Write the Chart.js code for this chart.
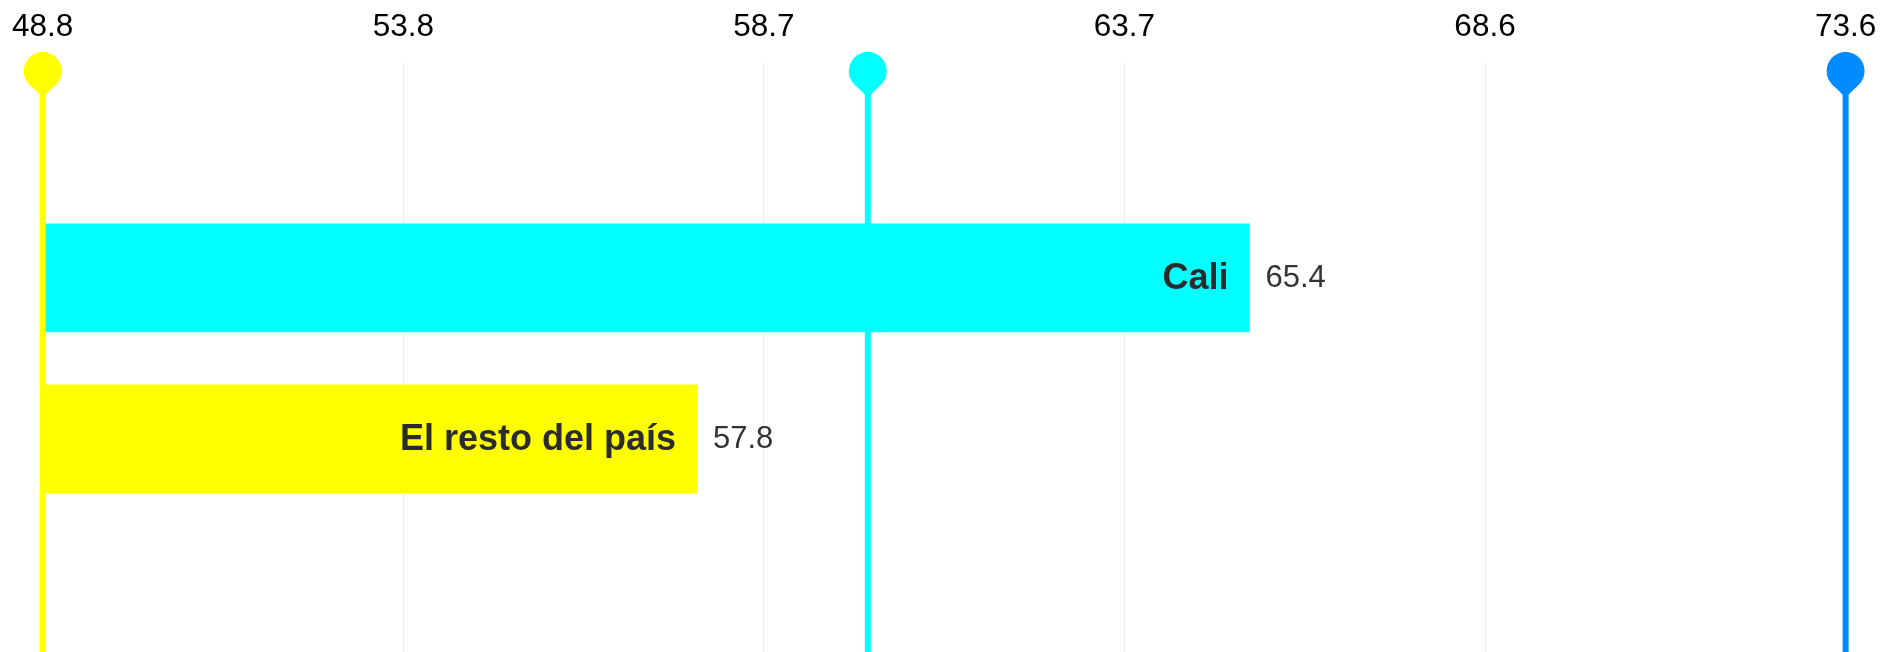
<!DOCTYPE html>
<html>
<head>
<meta charset="utf-8">
<script src="https://cdn.jsdelivr.net/npm/chart.js@4.4.1/dist/chart.umd.min.js"></script>
<style>
  html, body { margin: 0; padding: 0; background: #ffffff; }
  #wrap { width: 1883px; height: 652px; position: relative; }
</style>
</head>
<body>
<div id="wrap"><canvas id="c" width="1883" height="652"></canvas></div>
<script>
// ---- data ----
const categories = ['Cali', 'El resto del país'];
const values = [65.4, 57.8];
const barColors = ['#00FFFF', '#FFFF00'];
const markerValues = [48.8, 60.15, 73.6];
const markerColors = ['#FFFF00', '#00FFFF', '#008CFF'];
const tickValues = [48.8, 53.76, 58.72, 63.68, 68.64, 73.6];
const tickLabels = ['48.8', '53.8', '58.7', '63.7', '68.6', '73.6'];

const FONT = '"Liberation Sans", Arial, Helvetica, sans-serif';
const xMin = tickValues[0];
const xMax = tickValues[tickValues.length - 1];

const pinPlugin = {
  id: 'pins',
  afterDatasetsDraw(chart) {
    const ctx = chart.ctx;
    const xs = chart.scales.x;
    const area = chart.chartArea;
    const r = 19;
    const cy = area.top + 8;
    const d = 26.5;
    const phi = Math.acos(r / d);
    ctx.save();
    markerValues.forEach((v, i) => {
      const x = xs.getPixelForValue(v);
      ctx.fillStyle = markerColors[i];
      // stem
      ctx.fillRect(x - 3, cy + d - 4, 6, chart.height - (cy + d - 4));
      // pin head
      ctx.beginPath();
      ctx.arc(x, cy, r, 0, Math.PI * 2);
      ctx.fill();
      ctx.beginPath();
      ctx.moveTo(x - r * Math.sin(phi), cy + r * Math.cos(phi));
      ctx.lineTo(x, cy + d);
      ctx.lineTo(x + r * Math.sin(phi), cy + r * Math.cos(phi));
      ctx.closePath();
      ctx.fill();
    });
    ctx.restore();
  }
};

const labelPlugin = {
  id: 'barLabels',
  afterDraw(chart) {
    const ctx = chart.ctx;
    const meta = chart.getDatasetMeta(0);
    ctx.save();
    ctx.textBaseline = 'middle';
    meta.data.forEach((bar, i) => {
      const x = bar.x;
      const y = bar.y;
      ctx.fillStyle = '#2b2b2b';
      ctx.font = 'bold 36px ' + FONT;
      ctx.textAlign = 'right';
      ctx.fillText(categories[i], x - 21, y + 1);
      ctx.font = '31px ' + FONT;
      ctx.fillStyle = '#333333';
      ctx.textAlign = 'left';
      ctx.fillText(values[i].toFixed(1), x + 16, y + 1);
    });
    ctx.restore();
  }
};

new Chart(document.getElementById('c'), {
  type: 'bar',
  data: {
    datasets: [{
      data: values.map((v, i) => ({ x: v, y: i })),
      backgroundColor: barColors,
      borderWidth: 0,
      base: xMin,
      barThickness: 108
    }]
  },
  options: {
    indexAxis: 'y',
    responsive: false,
    animation: false,
    events: [],
    layout: { padding: { left: 42.7, right: 37.4, top: 0, bottom: 0 } },
    plugins: { legend: { display: false }, tooltip: { enabled: false } },
    scales: {
      x: {
        type: 'linear',
        position: 'top',
        min: xMin,
        max: xMax,
        afterBuildTicks(scale) {
          scale.ticks = tickValues.map(v => ({ value: v }));
        },
        afterFit(scale) {
          scale.paddingLeft = 0;
          scale.paddingRight = 0;
          scale.height = 63;
        },
        ticks: {
          autoSkip: false,
          maxRotation: 0,
          padding: 17,
          color: '#000000',
          font: { family: FONT, size: 31.5 },
          callback: (v, idx) => tickLabels[idx]
        },
        grid: { color: '#ebebeb', lineWidth: 1, drawTicks: false },
        border: { display: false }
      },
      y: {
        type: 'linear',
        display: false,
        offset: false,
        reverse: true,
        min: -1.335,
        max: 2.325
      }
    }
  },
  plugins: [pinPlugin, labelPlugin]
});
</script>
</body>
</html>
